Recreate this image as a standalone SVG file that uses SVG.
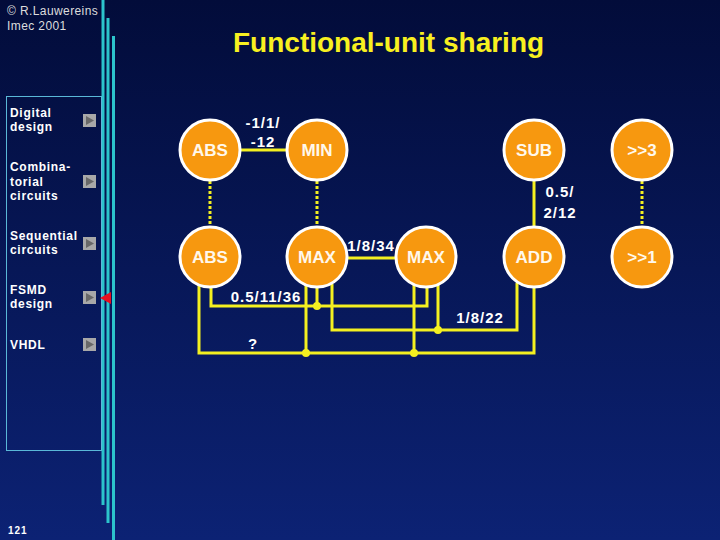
<svg xmlns="http://www.w3.org/2000/svg" width="720" height="540" viewBox="0 0 720 540">
<defs>
<linearGradient id="bg" x1="0" y1="0" x2="0" y2="1">
<stop offset="0" stop-color="#020c3a"/>
<stop offset="1" stop-color="#0c2274"/>
</linearGradient>
<style>
.nav{font-family:"Liberation Sans",Arial,sans-serif;font-weight:bold;font-size:12px;fill:#ffffff;letter-spacing:0.7px}
.node circle{fill:#f7980f;stroke:#ffffff;stroke-width:3}
.node text{font-family:"Liberation Sans",Arial,sans-serif;font-weight:bold;font-size:17px;fill:#fff8ec;text-anchor:middle}
.wire{fill:none;stroke:#f4f020;stroke-width:3}
.dot{stroke:#f4f020;stroke-width:3;stroke-dasharray:3 2;fill:none}
.lbl{font-family:"Liberation Sans",Arial,sans-serif;font-weight:bold;font-size:15px;fill:#ffffff;letter-spacing:1px}
.jn{fill:#f4f020}
.btn rect{fill:#a8a8a8}
.btn path{fill:#686868}
.bar{stroke:#2cc4cc;stroke-width:3}
</style>
</defs>
<rect width="720" height="540" fill="url(#bg)"/>
<g id="bars">
<line class="bar" x1="103" y1="0" x2="103" y2="505"/>
<line class="bar" x1="108" y1="18" x2="108" y2="523"/>
<line class="bar" x1="113.5" y1="36" x2="113.5" y2="540"/>
</g>
<rect x="6.5" y="96.5" width="95" height="354" fill="none" stroke="#5ab8d8" stroke-width="1"/>
<text x="7" y="15" font-family="'Liberation Sans',Arial,sans-serif" font-size="12" fill="#dddddd" letter-spacing="0.4">© R.Lauwereins</text>
<text x="7" y="30" font-family="'Liberation Sans',Arial,sans-serif" font-size="12" fill="#dddddd" letter-spacing="0.4">Imec 2001</text>
<text x="233" y="52" font-family="'Liberation Sans',Arial,sans-serif" font-weight="bold" font-size="28" fill="#f8f020">Functional-unit sharing</text>
<g id="nav">
<text class="nav" x="10" y="117">Digital</text>
<text class="nav" x="10" y="131">design</text>
<text class="nav" x="10" y="171">Combina-</text>
<text class="nav" x="10" y="186">torial</text>
<text class="nav" x="10" y="200">circuits</text>
<text class="nav" x="10" y="240">Sequential</text>
<text class="nav" x="10" y="254">circuits</text>
<text class="nav" x="10" y="294">FSMD</text>
<text class="nav" x="10" y="308">design</text>
<text class="nav" x="10" y="349">VHDL</text>
<g class="btn"><rect x="83" y="114" width="13" height="13"/><path d="M86 116 L94 120.5 L86 125 Z"/></g>
<g class="btn"><rect x="83" y="175" width="13" height="13"/><path d="M86 177 L94 181.5 L86 186 Z"/></g>
<g class="btn"><rect x="83" y="237" width="13" height="13"/><path d="M86 239 L94 243.5 L86 248 Z"/></g>
<g class="btn"><rect x="83" y="291" width="13" height="13"/><path d="M86 293 L94 297.5 L86 302 Z"/></g>
<g class="btn"><rect x="83" y="338" width="13" height="13"/><path d="M86 340 L94 344.5 L86 349 Z"/></g>
<path d="M100 298 L111 292 L111 304 Z" fill="#e81020"/>
</g>
<text x="8" y="534" font-family="'Liberation Sans',Arial,sans-serif" font-weight="bold" font-size="10" fill="#ffffff" letter-spacing="1">121</text>
<g id="connectors">
<line class="wire" x1="240" y1="150" x2="287" y2="150"/>
<line class="wire" x1="347" y1="258" x2="395" y2="258"/>
<line class="wire" x1="534" y1="180" x2="534" y2="226"/>
<line class="dot" x1="210" y1="181" x2="210" y2="226"/>
<line class="dot" x1="317" y1="181" x2="317" y2="226"/>
<line class="dot" x1="642" y1="181" x2="642" y2="226"/>
<polyline class="wire" points="199,284 199,353 534,353 534,288"/>
<polyline class="wire" points="211,287 211,306 427,306 427,288"/>
<line class="wire" x1="306" y1="285" x2="306" y2="353"/>
<line class="wire" x1="317" y1="288" x2="317" y2="306"/>
<polyline class="wire" points="332,284 332,330 517,330 517,283"/>
<line class="wire" x1="414" y1="285" x2="414" y2="353"/>
<line class="wire" x1="438" y1="285" x2="438" y2="330"/>
<circle class="jn" cx="306" cy="353" r="4"/>
<circle class="jn" cx="414" cy="353" r="4"/>
<circle class="jn" cx="317" cy="306" r="4"/>
<circle class="jn" cx="438" cy="330" r="4"/>
</g>
<g id="labels">
<text class="lbl" x="263" y="128" text-anchor="middle">-1/1/</text>
<text class="lbl" x="263" y="147" text-anchor="middle">-12</text>
<text class="lbl" x="560" y="197" text-anchor="middle">0.5/</text>
<text class="lbl" x="560" y="218" text-anchor="middle">2/12</text>
<text class="lbl" x="371" y="251" text-anchor="middle">1/8/34</text>
<text class="lbl" x="266" y="302" text-anchor="middle">0.5/11/36</text>
<text class="lbl" x="480" y="323" text-anchor="middle">1/8/22</text>
<text class="lbl" x="253" y="349" text-anchor="middle">?</text>
</g>
<g id="abs1" class="node"><circle cx="210" cy="150" r="30"/><text x="210" y="156">ABS</text></g>
<g id="min" class="node"><circle cx="317" cy="150" r="30"/><text x="317" y="156">MIN</text></g>
<g id="sub" class="node"><circle cx="534" cy="150" r="30"/><text x="534" y="156">SUB</text></g>
<g id="shr3" class="node"><circle cx="642" cy="150" r="30"/><text x="642" y="156">&gt;&gt;3</text></g>
<g id="abs2" class="node"><circle cx="210" cy="257" r="30"/><text x="210" y="263">ABS</text></g>
<g id="max1" class="node"><circle cx="317" cy="257" r="30"/><text x="317" y="263">MAX</text></g>
<g id="max2" class="node"><circle cx="426" cy="257" r="30"/><text x="426" y="263">MAX</text></g>
<g id="add" class="node"><circle cx="534" cy="257" r="30"/><text x="534" y="263">ADD</text></g>
<g id="shr1" class="node"><circle cx="642" cy="257" r="30"/><text x="642" y="263">&gt;&gt;1</text></g>
</svg>
